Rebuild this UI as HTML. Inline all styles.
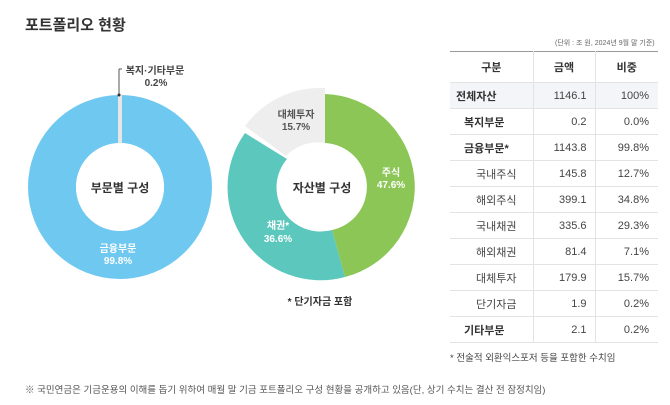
<!DOCTYPE html>
<html><head><meta charset="utf-8"><style>
body{margin:0;width:670px;height:405px;background:#fff;font-family:"Liberation Sans","Noto Sans CJK KR",sans-serif;color:#333;position:relative;overflow:hidden}
.t{position:absolute}
table{position:absolute;left:450px;top:51px;width:208px;border-collapse:collapse;table-layout:fixed;font-size:11px;color:#444;border-top:1px solid #999}
td{height:26px;border-bottom:1px solid #e3e3e3;padding:0;white-space:nowrap;box-sizing:border-box}
tr.h td{height:31px;font-weight:bold;text-align:center;color:#333}
td.c1{border-right:1px solid #e3e3e3}
td.c2{border-right:1px solid #e3e3e3;text-align:right;padding-right:8px}
td.c3{text-align:right;padding-right:9px}
td.b{font-weight:bold;padding-left:14px;color:#333}
td.s{padding-left:26px}
tr.f td{background:#f3f5f8}
</style></head><body>
<div class="t" style="left:25px;top:14px;font-size:15px;font-weight:bold;color:#333">포트폴리오 현황</div>
<svg class="t" style="left:0;top:0" width="440" height="320" viewBox="0 0 440 320">
<g font-family="Liberation Sans,Noto Sans CJK KR,sans-serif" font-weight="bold" text-anchor="middle">
<circle cx="120" cy="187" r="68" fill="none" stroke="#6ec8f0" stroke-width="48"/>
<path d="M118 94 L122 94 L122 143 L118 143 Z" fill="#e6e6e6"/>
<line x1="119" y1="69" x2="119" y2="95" stroke="#555" stroke-width="1"/>
<line x1="119" y1="69" x2="122" y2="69" stroke="#555" stroke-width="1"/>
<circle cx="119" cy="95" r="1.5" fill="#333"/>
<text x="155" y="74" font-size="10" fill="#444">복지·기타부문</text>
<text x="156" y="86" font-size="10" fill="#444">0.2%</text>
<circle cx="120" cy="187" r="44" fill="#fff"/>
<text x="120" y="192" font-size="12" fill="#333">부문별 구성</text>
<text x="118" y="252" font-size="10" fill="#fff">금융부문</text>
<text x="118" y="264" font-size="10" fill="#fff">99.8%</text>
<path d="M325 94 A93 93 0 0 1 345 277 L332 230 A44 44 0 0 0 325 143 Z" fill="#8bc656"/>
<path d="M345 277 A93 93 0 0 1 245 133 L287 159 A44 44 0 0 0 332 230 Z" fill="#5cc8bd"/>
<path d="M325 88 L325 143 A44 44 0 0 0 286 156 L245 126 A93 93 0 0 1 325 88 Z" fill="#eeeeee"/>
<circle cx="322" cy="187" r="44" fill="#fff"/>
<text x="322" y="192" font-size="12" fill="#333">자산별 구성</text>
<text x="296" y="118" font-size="10" fill="#555">대체투자</text>
<text x="296" y="130" font-size="10" fill="#555">15.7%</text>
<text x="391" y="176" font-size="10" fill="#fff">주식</text>
<text x="391" y="188" font-size="10" fill="#fff">47.6%</text>
<text x="278" y="229" font-size="10" fill="#fff">채권*</text>
<text x="278" y="242" font-size="10" fill="#fff">36.6%</text>
<text x="320" y="305" font-size="10" fill="#333">* 단기자금 포함</text>
</g></svg>
<div class="t" style="left:555px;top:38px;font-size:7px;color:#666">(단위 : 조 원, 2024년 9월 말 기준)</div>
<table>
<colgroup><col style="width:83px"><col style="width:62px"><col style="width:63px"></colgroup>
<tr class="h"><td class="c1">구분</td><td style="text-align:center;border-right:1px solid #e3e3e3">금액</td><td style="text-align:center">비중</td></tr>
<tr class="f"><td class="c1 b" style="padding-left:6px">전체자산</td><td class="c2">1146.1</td><td class="c3">100%</td></tr>
<tr><td class="c1 b">복지부문</td><td class="c2">0.2</td><td class="c3">0.0%</td></tr>
<tr><td class="c1 b">금융부문*</td><td class="c2">1143.8</td><td class="c3">99.8%</td></tr>
<tr><td class="c1 s">국내주식</td><td class="c2">145.8</td><td class="c3">12.7%</td></tr>
<tr><td class="c1 s">해외주식</td><td class="c2">399.1</td><td class="c3">34.8%</td></tr>
<tr><td class="c1 s">국내채권</td><td class="c2">335.6</td><td class="c3">29.3%</td></tr>
<tr><td class="c1 s">해외채권</td><td class="c2">81.4</td><td class="c3">7.1%</td></tr>
<tr><td class="c1 s">대체투자</td><td class="c2">179.9</td><td class="c3">15.7%</td></tr>
<tr><td class="c1 s">단기자금</td><td class="c2">1.9</td><td class="c3">0.2%</td></tr>
<tr><td class="c1 b">기타부문</td><td class="c2">2.1</td><td class="c3">0.2%</td></tr>
</table>
<div class="t" style="left:450px;top:350px;font-size:9.5px;color:#444">* 전술적 외환익스포저 등을 포함한 수치임</div>
<div class="t" style="left:25px;top:382px;font-size:9.5px;color:#555">※ 국민연금은 기금운용의 이해를 돕기 위하여 매월 말 기금 포트폴리오 구성 현황을 공개하고 있음(단, 상기 수치는 결산 전 잠정치임)</div>
</body></html>
